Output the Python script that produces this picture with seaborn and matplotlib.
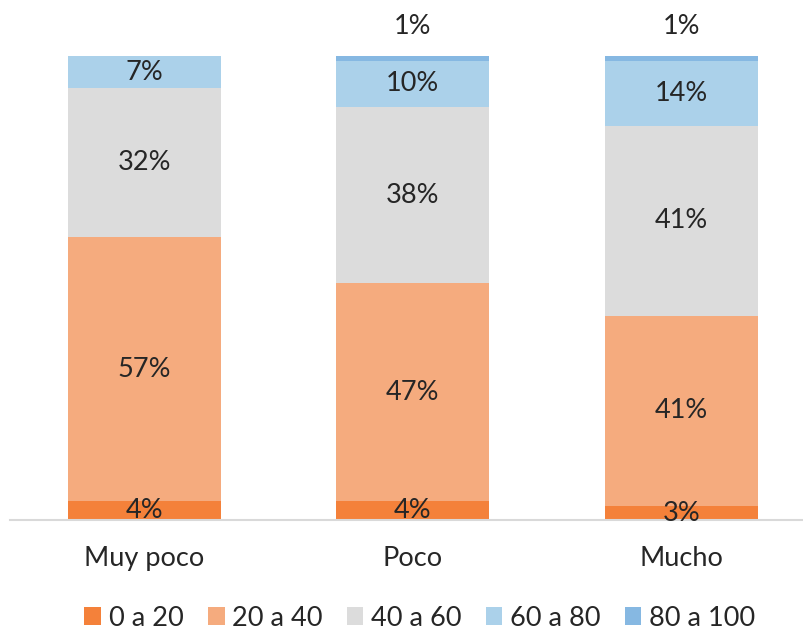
import matplotlib
matplotlib.use("Agg")
import matplotlib.pyplot as plt
from matplotlib.patches import Patch
import seaborn as sns
import numpy as np
import pandas as pd

categories = ["Muy poco", "Poco", "Mucho"]
series_names = ["0 a 20", "20 a 40", "40 a 60", "60 a 80", "80 a 100"]
s0_20 = [4, 4, 3]
s20_40 = [57, 47, 41]
s40_60 = [32, 38, 41]
s60_80 = [7, 10, 14]
s80_100 = [0, 1, 1]
colors = ["#F4813A", "#F5AB7E", "#DCDCDC", "#ABD1EA", "#86B8E2"]

sns.set_theme(style="white")
plt.rcParams['font.family'] = ['Lato', 'DejaVu Sans']

series = [s0_20, s20_40, s40_60, s60_80, s80_100]
cum = np.cumsum(np.array(series), axis=0)

fig = plt.figure(figsize=(8.04, 6.32), dpi=100)
ax = fig.add_axes([10/804, 112/632, 794/804, 464/632])

for i in range(len(series) - 1, -1, -1):
    df = pd.DataFrame({"cat": categories, "val": cum[i]})
    sns.barplot(data=df, x="cat", y="val", color=colors[i], width=0.57,
                saturation=1, ax=ax, linewidth=0)

txtcol = "#262626"
FS = 19.5
for j in range(len(categories)):
    for i in range(len(series)):
        v = series[i][j]
        if v == 0:
            continue
        if i == len(series) - 1:
            y = 100 + 6.25
        else:
            y = cum[i][j] - v / 2
        ax.text(j, y, f"{v}%", ha="center", va="center", fontsize=FS,
                color=txtcol, clip_on=False)

ax.set_xlim(-0.5, 2.457)
ax.set_ylim(0, 100)
ax.set_xlabel("")
ax.set_ylabel("")
ax.set_yticks([])
ax.tick_params(axis="x", length=0, labelsize=FS, colors=txtcol, pad=19)
for s in ["top", "right", "left"]:
    ax.spines[s].set_visible(False)
ax.spines["bottom"].set_color("#D9D9D9")
ax.spines["bottom"].set_linewidth(1.5)

handles = [Patch(facecolor=c, edgecolor="none", label=n) for c, n in zip(colors, series_names)]
fig.legend(handles=handles, loc="center", bbox_to_anchor=(0.522, 0.022), ncol=5,
           frameon=False, fontsize=FS, handlelength=0.62, handleheight=0.62,
           handletextpad=0.27, columnspacing=0.9, labelcolor=txtcol,
           borderpad=0, borderaxespad=0)

fig.savefig("out.png", dpi=100)
